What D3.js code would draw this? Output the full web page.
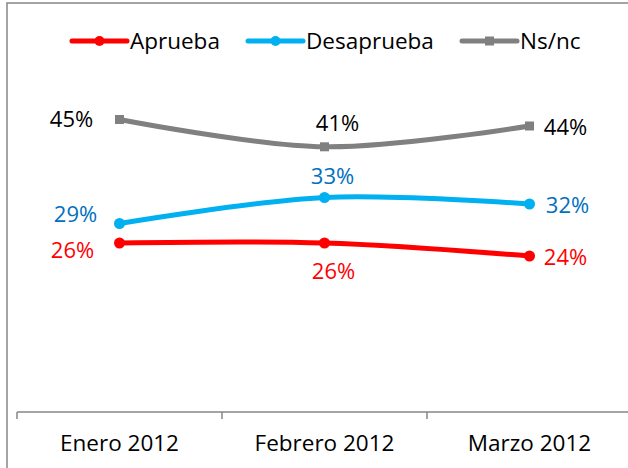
<!DOCTYPE html>
<html>
<head>
<meta charset="utf-8">
<script src="https://cdn.jsdelivr.net/npm/d3@7"></script>
<style>
  body { margin: 0; background: #fff; }
  svg { display: block; font-family: "Open Sans", sans-serif; }
</style>
</head>
<body>
<svg id="chart" width="628" height="468"></svg>
<script>
// Chart data
const months = ['Enero 2012', 'Febrero 2012', 'Marzo 2012'];
const aprueba = [26, 26, 24];
const desaprueba = [29, 33, 32];
const nsnc = [45, 40.8, 44];

// Series config: colours, marker and where each label sits
const aSeries = [
  { sName: 'Aprueba', aValues: aprueba, sColour: '#ff0000', sText: '#ff0000', sMarker: 'circle',
    aLabel: [[-47, 7], [9, 28], [36, 1]] },
  { sName: 'Desaprueba', aValues: desaprueba, sColour: '#00b0f0', sText: '#0070c0', sMarker: 'circle',
    aLabel: [[-44, -9], [8, -21], [38, 1]] },
  { sName: 'Ns/nc', aValues: nsnc, sColour: '#808080', sText: '#000000', sMarker: 'square',
    aLabel: [[-48, 0], [13, -24], [36, 1]] }
];

const svg = d3.select('#chart');
const iAxisY = 412;

// Outer frame
svg.append('rect')
  .attr('x', 7).attr('y', 3)
  .attr('width', 700).attr('height', 500)
  .attr('fill', 'none')
  .attr('stroke', '#868686')
  .attr('stroke-width', 1.5);

const x = d3.scaleBand().domain(months).range([17, 632]);
const y = d3.scaleLinear().domain([0, 60]).range([iAxisY, 22]);
const fnX = i => x(months[i]) + x.bandwidth() / 2;

// Category axis: labels at band centres, ticks at band edges
const oAxisG = svg.append('g').attr('transform', `translate(0,${iAxisY})`);
oAxisG.call(d3.axisBottom(x).tickSize(0).tickPadding(0))
  .call(g => g.select('.domain').remove());
oAxisG.selectAll('.tick text')
  .attr('y', 31)
  .attr('dy', '0.35em')
  .attr('font-size', 22.5)
  .attr('font-family', '"Open Sans", sans-serif')
  .attr('fill', '#000');
oAxisG.append('line')
  .attr('x1', x.range()[0]).attr('x2', x.range()[1])
  .attr('stroke', '#868686').attr('stroke-width', 1.5);
oAxisG.selectAll('line.edge')
  .data(d3.range(months.length + 1))
  .enter()
  .append('line')
  .attr('class', 'edge')
  .attr('x1', i => x.range()[0] + i * x.step())
  .attr('x2', i => x.range()[0] + i * x.step())
  .attr('y1', 0).attr('y2', 7)
  .attr('stroke', '#868686').attr('stroke-width', 1.5);

const line = d3.line()
  .x((d, i) => fnX(i))
  .y(d => y(d))
  .curve(d3.curveCatmullRom.alpha(0.5));

const fnMarker = (g, sMarker, sColour, cx, cy, r) => {
  if (sMarker === 'square') {
    g.append('rect')
      .attr('x', cx - r).attr('y', cy - r)
      .attr('width', r * 2).attr('height', r * 2)
      .attr('fill', sColour);
  } else {
    g.append('circle').attr('cx', cx).attr('cy', cy).attr('r', r).attr('fill', sColour);
  }
};

// Lines, markers and value labels
aSeries.forEach(s => {
  const g = svg.append('g');
  g.append('path')
    .datum(s.aValues)
    .attr('d', line)
    .attr('fill', 'none')
    .attr('stroke', s.sColour)
    .attr('stroke-width', 5)
    .attr('stroke-linecap', 'round');
  s.aValues.forEach((v, i) => {
    fnMarker(g, s.sMarker, s.sColour, fnX(i), y(v), s.sMarker === 'square' ? 4.5 : 5.5);
    g.append('text')
      .attr('x', fnX(i) + s.aLabel[i][0])
      .attr('y', y(v) + s.aLabel[i][1])
      .attr('dy', '0.35em')
      .attr('text-anchor', 'middle')
      .attr('font-size', 22)
      .attr('fill', s.sText)
      .text(d3.format('.0f')(v) + '%');
  });
});

// Legend
const aLegendX = [72, 248, 462];
const oLegend = svg.append('g').attr('transform', 'translate(0,41)');
aSeries.forEach((s, i) => {
  const g = oLegend.append('g').attr('transform', `translate(${aLegendX[i]},0)`);
  g.append('line')
    .attr('x1', 0).attr('x2', 55)
    .attr('stroke', s.sColour).attr('stroke-width', 5)
    .attr('stroke-linecap', 'round');
  fnMarker(g, s.sMarker, s.sColour, 27.5, 0, s.sMarker === 'square' ? 4.5 : 5);
  g.append('text')
    .attr('x', 58)
    .attr('dy', '0.35em')
    .attr('font-size', 22.5)
    .text(s.sName);
});
</script>
</body>
</html>
